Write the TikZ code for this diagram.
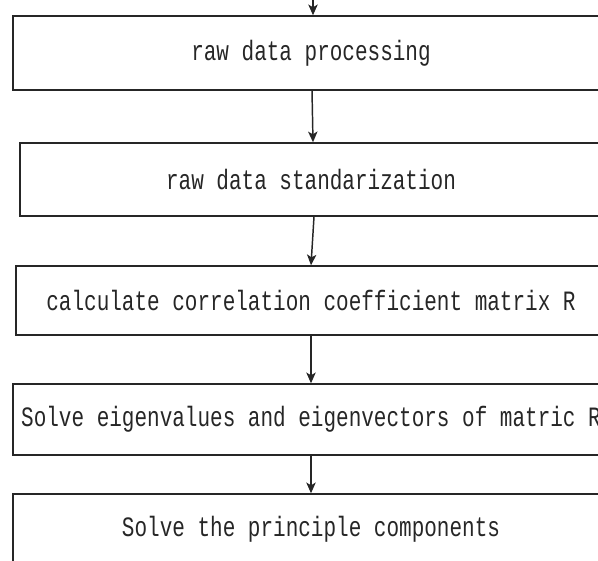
\documentclass[tikz,border=0pt]{standalone}
\usepackage{fontspec}
\newfontfamily\boxfont[FakeStretch=0.75]{Liberation Mono}
\usetikzlibrary{arrows.meta}
\begin{document}
\begin{tikzpicture}[x=0.75pt,y=-0.75pt,
  stepbox/.style={draw=black!85, line width=1.1pt, rectangle, inner sep=0pt,
    font=\boxfont\fontsize{21pt}{24pt}\selectfont, text=black!85},
  arr/.style={draw=black!85, line width=1.1pt,
    -{Stealth[length=8pt,width=7pt,inset=2pt]}}]
  \useasboundingbox (0,0) rectangle (598,560);
  \clip (0,0) rectangle (598,560);
  % process steps, top to bottom
  \node[stepbox, minimum width=447pt, minimum height=55.5pt] (b1) at (311,53) {raw data processing};
  \node[stepbox, minimum width=436.5pt, minimum height=54.75pt] (b2) at (311,179.5) {raw data standarization};
  \node[stepbox, minimum width=442.5pt, minimum height=51.75pt] (b3) at (311,300.5) {calculate correlation coefficient matrix R};
  \node[stepbox, minimum width=447pt, minimum height=53.25pt] (b4) at (311,419.5) {Solve eigenvalues and eigenvectors of matric R};
  \node[stepbox, minimum width=447pt, minimum height=52.5pt] (b5) at (311,529) {Solve the principle components};
  % incoming flow from above
  \coordinate (in) at (313,-30);
  \draw[arr] (in) -- (b1.north -| in);
  % connectors between steps
  \draw[arr] ([xshift=0.75pt]b1.south) -- ([xshift=1.5pt]b2.north);
  \draw[arr] ([xshift=2.25pt]b2.south) -- (b3.north);
  \draw[arr] (b3.south) -- (b4.north);
  \draw[arr] (b4.south) -- (b5.north);
\end{tikzpicture}
\end{document}
